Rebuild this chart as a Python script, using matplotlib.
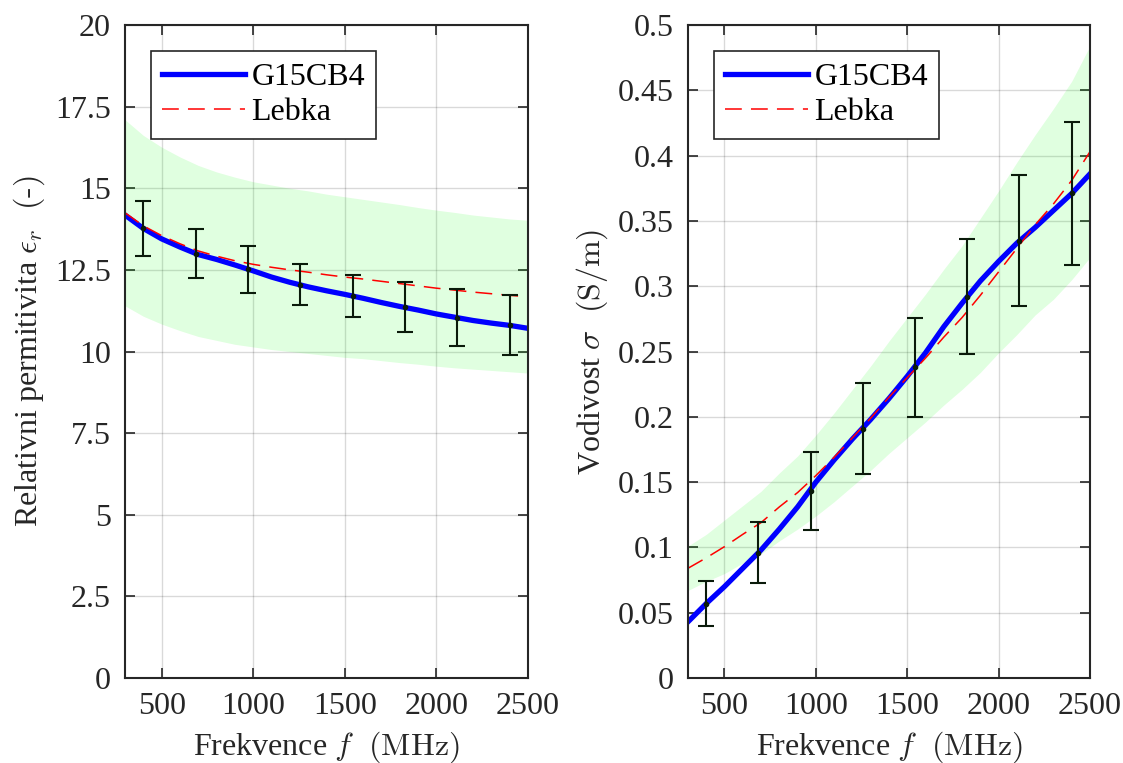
import matplotlib
matplotlib.use("Agg")
from matplotlib import pyplot as plt
import numpy as np

# frequency grid for the curves (MHz)
freq = [300, 400, 500, 600, 700, 800, 900, 1000, 1100, 1200, 1300, 1400,
        1500, 1600, 1700, 1800, 1900, 2000, 2100, 2200, 2300, 2400, 2500]

# relative permittivity
eps_g15 = [14.18, 13.77, 13.45, 13.20, 12.97, 12.82, 12.65, 12.47, 12.28, 12.12,
           11.98, 11.86, 11.75, 11.63, 11.50, 11.38, 11.27, 11.15, 11.05, 10.95,
           10.87, 10.80, 10.71]
eps_lebka = [14.25, 13.85, 13.55, 13.30, 13.08, 12.92, 12.78, 12.67, 12.58, 12.50,
             12.43, 12.35, 12.28, 12.22, 12.15, 12.08, 12.01, 11.94, 11.88, 11.82,
             11.77, 11.72, 11.68]
eps_hi = [17.10, 16.62, 16.26, 15.96, 15.70, 15.50, 15.34, 15.20, 15.10, 15.00,
          14.92, 14.82, 14.74, 14.66, 14.58, 14.50, 14.41, 14.33, 14.26, 14.18,
          14.12, 14.06, 14.02]
eps_lo = [11.40, 11.08, 10.84, 10.64, 10.46, 10.34, 10.22, 10.14, 10.06, 10.00,
          9.94, 9.88, 9.82, 9.78, 9.72, 9.66, 9.61, 9.55, 9.50, 9.46, 9.42,
          9.38, 9.34]

# conductivity (S/m)
sig_g15 = [0.043, 0.057, 0.070, 0.084, 0.098, 0.114, 0.131, 0.150, 0.167, 0.183,
           0.198, 0.214, 0.231, 0.249, 0.269, 0.287, 0.304, 0.319, 0.333, 0.345,
           0.358, 0.371, 0.386]
sig_lebka = [0.084, 0.092, 0.1006, 0.110, 0.119, 0.131, 0.142, 0.155, 0.169, 0.184,
             0.199, 0.215, 0.230, 0.245, 0.261, 0.276, 0.293, 0.311, 0.329, 0.347,
             0.363, 0.381, 0.403]
sig_hi = [0.101, 0.110, 0.121, 0.132, 0.143, 0.157, 0.170, 0.186, 0.203, 0.221,
          0.239, 0.258, 0.276, 0.294, 0.313, 0.331, 0.352, 0.373, 0.395, 0.416,
          0.436, 0.457, 0.484]
sig_lo = [0.067, 0.074, 0.080, 0.088, 0.095, 0.105, 0.114, 0.124, 0.135, 0.147,
          0.159, 0.172, 0.184, 0.196, 0.209, 0.221, 0.234, 0.249, 0.263, 0.278,
          0.290, 0.305, 0.322]

# measured points with error bars
meas_f = [400, 686, 971, 1257, 1543, 1829, 2114, 2400]
meas_eps = [13.77, 12.99, 12.52, 12.04, 11.70, 11.36, 11.04, 10.80]
meas_eps_err = [0.84, 0.75, 0.72, 0.63, 0.63, 0.77, 0.87, 0.92]
meas_sig = [0.057, 0.096, 0.143, 0.191, 0.238, 0.292, 0.335, 0.371]
meas_sig_err = [0.0175, 0.0235, 0.030, 0.035, 0.038, 0.044, 0.050, 0.055]

plt.rcParams['font.family'] = ['Liberation Serif', 'DejaVu Serif']
plt.rcParams['mathtext.fontset'] = 'cm'
FS = 23


def style_axes(ax, yticks, yticklabels):
  ax.set_xlim(300, 2500)
  ax.set_xticks([500, 1000, 1500, 2000, 2500])
  ax.set_yticks(yticks)
  ax.set_yticklabels(yticklabels)
  ax.set_ylim(yticks[0], yticks[-1])
  ax.set_axisbelow(True)
  ax.grid(True, color='k', alpha=0.15, linewidth=1)
  ax.tick_params(direction='in', top=True, right=True, length=7, width=1.2,
                 labelsize=FS, colors='#262626', pad=10)
  for sp in ax.spines.values():
    sp.set_linewidth(1.5)
    sp.set_color('#262626')
  ax.set_xlabel(r'Frekvence $f\ \ \mathrm{(MHz)}$', fontsize=FS, color='#262626',
                labelpad=6)


def draw_panel(ax, g15, lebka, hi, lo, mval, merr):
  ax.fill_between(freq, lo, hi, color='#00ff00', alpha=0.12, linewidth=0)
  ax.plot(freq, g15, color='#0000ff', linewidth=3.8, label='G15CB4')
  ax.plot(freq, lebka, color='#ff0000', linewidth=1.1, dashes=(11, 6), label='Lebka')
  ax.errorbar(meas_f, mval, yerr=merr, fmt='.', color='#0a1a0a', markersize=6,
              elinewidth=1.5, capsize=6, capthick=1.5, zorder=5)
  leg = ax.legend(loc='upper left', bbox_to_anchor=(0.064, 0.96), borderaxespad=0,
                  fontsize=FS, fancybox=False, framealpha=1, edgecolor='#262626',
                  handlelength=2.6, handletextpad=0.2, borderpad=0.35,
                  labelspacing=0.2)
  leg.get_frame().set_linewidth(1.2)


fig = plt.figure(figsize=(11.23, 7.63), dpi=100)
ax1 = fig.add_axes([0.1113, 0.1114, 0.3589, 0.8558])
ax2 = fig.add_axes([0.6126, 0.1114, 0.3580, 0.8558])

draw_panel(ax1, eps_g15, eps_lebka, eps_hi, eps_lo, meas_eps, meas_eps_err)
yt1 = [0, 2.5, 5, 7.5, 10, 12.5, 15, 17.5, 20]
style_axes(ax1, yt1, ['0', '2.5', '5', '7.5', '10', '12.5', '15', '17.5', '20'])
ax1.set_ylabel(r'Relativni permitivita $\epsilon_r\ \ \mathrm{(\text{-})}$', fontsize=FS,
               color='#262626', labelpad=6)

draw_panel(ax2, sig_g15, sig_lebka, sig_hi, sig_lo, meas_sig, meas_sig_err)
yt2 = [0, 0.05, 0.1, 0.15, 0.2, 0.25, 0.3, 0.35, 0.4, 0.45, 0.5]
style_axes(ax2, yt2, ['0', '0.05', '0.1', '0.15', '0.2', '0.25', '0.3', '0.35',
                      '0.4', '0.45', '0.5'])
ax2.set_ylabel(r'Vodivost $\sigma\ \ \mathrm{(S/m)}$', fontsize=FS, color='#262626',
               labelpad=6)

fig.savefig('out.png', dpi=100)
